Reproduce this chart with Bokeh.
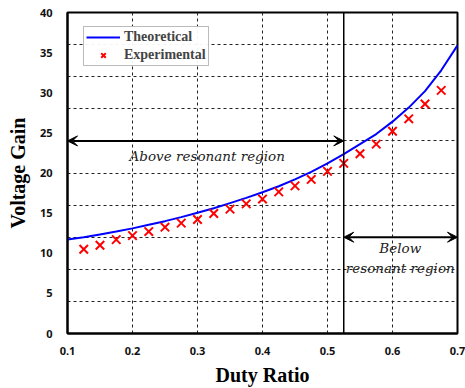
from bokeh.plotting import figure
from bokeh.models import (Range1d, FixedTicker, Span, Arrow, VeeHead, Legend, LegendItem)
from bokeh.core.properties import value
from bokeh.embed import file_html
from bokeh.resources import INLINE

# ---- data ----
theo_x = [0.1, 0.125, 0.15, 0.175, 0.2, 0.225, 0.25, 0.275, 0.3, 0.325, 0.35, 0.375, 0.4,
          0.425, 0.45, 0.475, 0.5, 0.525, 0.55, 0.575, 0.6, 0.625, 0.65, 0.675, 0.7]
theo_y = [11.7, 12.0, 12.35, 12.7, 13.1, 13.55, 14.0, 14.5, 15.05, 15.6, 16.25, 16.9, 17.6,
          18.35, 19.2, 20.15, 21.2, 22.35, 23.6, 24.85, 26.4, 28.15, 30.2, 32.8, 35.9]
exp_x = [0.125, 0.15, 0.175, 0.2, 0.225, 0.25, 0.275, 0.3, 0.325, 0.35, 0.375, 0.4,
         0.425, 0.45, 0.475, 0.5, 0.525, 0.55, 0.575, 0.6, 0.625, 0.65, 0.675]
exp_y = [10.5, 11.0, 11.7, 12.2, 12.7, 13.25, 13.75, 14.2, 14.95, 15.5, 16.15, 16.75,
         17.65, 18.4, 19.2, 20.2, 21.2, 22.4, 23.6, 25.2, 26.75, 28.6, 30.3]
x_ticks = [0.1, 0.2, 0.3, 0.4, 0.5, 0.6, 0.7]
y_ticks = [0, 5, 10, 15, 20, 25, 30, 35, 40]
y_grid = [4, 8, 12, 16, 20, 24, 28, 32, 36]
boundary = 0.525          # resonant boundary duty ratio
above_arrow = (0.1, 0.525, 24)
below_arrow = (0.525, 0.7, 12)
note_text = ["Above resonant region", "Below", "resonant region"]
note_x = [0.315, 0.612, 0.612]
note_y = [22.1, 10.6, 8.1]

p = figure(width=465, height=388, output_backend="svg", toolbar_location=None,
           x_range=Range1d(0.1, 0.7), y_range=Range1d(0, 40),
           min_border_left=67, min_border_right=8, min_border_top=12, min_border_bottom=52)

p.xaxis.ticker = FixedTicker(ticks=x_ticks)
p.yaxis.ticker = FixedTicker(ticks=y_ticks)
p.xgrid.ticker = FixedTicker(ticks=x_ticks)
p.ygrid.ticker = FixedTicker(ticks=y_grid)
for g in (p.xgrid, p.ygrid):
    g.grid_line_color = "#222222"
    g.grid_line_dash = "3 3"
    g.grid_line_width = 1

p.outline_line_color = "black"
p.outline_line_width = 2
for ax in (p.xaxis, p.yaxis):
    ax.axis_line_width = 2
    ax.major_tick_line_color = None
    ax.minor_tick_line_color = None
    ax.major_label_text_font = "Noto Sans"
    ax.major_label_text_font_style = "bold"
    ax.major_label_text_font_size = "11px"
    ax.major_label_text_color = "#111111"
    ax.axis_label_text_font = "Liberation Serif"
    ax.axis_label_text_font_style = "bold"
    ax.axis_label_text_font_size = "20px"
    ax.axis_label_text_color = "black"
p.xaxis.axis_label = "Duty Ratio"
p.yaxis.axis_label = "Voltage Gain"
p.xaxis.major_label_standoff = 7
p.yaxis.major_label_standoff = 9
p.xaxis.axis_label_standoff = 6
p.yaxis.axis_label_standoff = 8

r_theo = p.line(theo_x, theo_y, line_color="#0000ff", line_width=2)
r_exp = p.scatter(exp_x, exp_y, marker="x", size=12, line_color="#ff0000", line_width=2)

p.add_layout(Span(location=boundary, dimension="height", line_color="black", line_width=1.5))

for (a, b, yy) in (above_arrow, below_arrow):
    p.add_layout(Arrow(x_start=a, y_start=yy, x_end=b, y_end=yy,
                       line_width=2, line_color="black",
                       start=VeeHead(size=10, fill_color="black", line_color="black"),
                       end=VeeHead(size=10, fill_color="black", line_color="black")))

p.text(x=note_x, y=note_y, text=note_text, text_font=value("DejaVu Serif"),
       text_font_style="italic", text_font_size="13.5px", text_color="#222222",
       text_align="center", text_baseline="middle")

legend = Legend(items=[LegendItem(label="Theoretical", renderers=[r_theo]),
                       LegendItem(label="Experimental", renderers=[r_exp])],
                location=(16, 267))
legend.label_text_font = "Liberation Serif"
legend.label_text_font_style = "bold"
legend.label_text_font_size = "14px"
legend.label_height = 16
legend.glyph_height = 16
legend.glyph_width = 34
legend.label_standoff = 4
legend.padding = 2
legend.spacing = 2
legend.margin = 0
legend.border_line_color = "#777777"
legend.border_line_width = 1.5
p.add_layout(legend)

open("out.html", "w").write(file_html(p, INLINE))
